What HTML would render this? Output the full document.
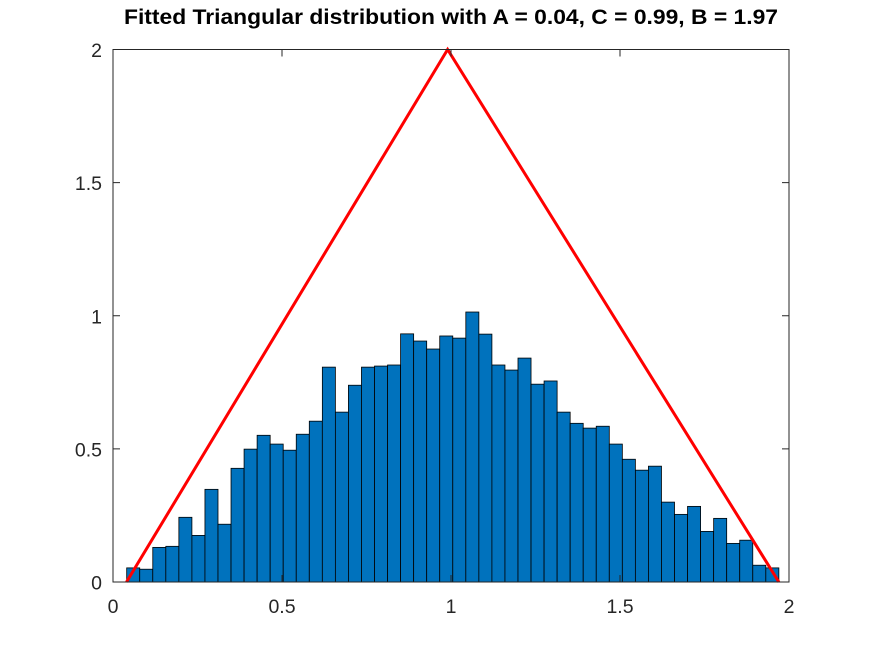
<!DOCTYPE html>
<html><head><meta charset="utf-8"><style>body{margin:0;background:#fff}svg{display:block}</style></head>
<body>
<svg id="chart" width="872" height="654" xmlns="http://www.w3.org/2000/svg" font-family="Liberation Sans, sans-serif">
<rect width="872" height="654" fill="#fff"/>
<g id="bars"></g>
<g id="line"></g>
<g id="axes"></g>
<text x="451" y="24" text-anchor="middle" font-size="21" font-weight="bold" textLength="654" lengthAdjust="spacingAndGlyphs">Fitted Triangular distribution with A = 0.04, C = 0.99, B = 1.97</text>
</svg>
<script>
const binStart = 0.0405;
const binEnd = 1.97;
const density = [0.053,0.048,0.130,0.134,0.243,0.175,0.348,0.217,0.427,0.499,0.551,0.518,0.495,0.555,0.604,0.807,0.638,0.739,0.807,0.811,0.815,0.932,0.905,0.875,0.924,0.916,1.014,0.931,0.815,0.796,0.841,0.743,0.755,0.638,0.596,0.578,0.585,0.518,0.461,0.420,0.435,0.300,0.254,0.284,0.190,0.239,0.145,0.157,0.063,0.053];
const pdfX = [0.04, 0.99, 1.97];
const pdfY = [0, 2, 0];
const xTicks = [0, 0.5, 1, 1.5, 2];
const xTickLabels = ["0","0.5","1","1.5","2"];
const yTicks = [0, 0.5, 1, 1.5, 2];
const yTickLabels = ["0","0.5","1","1.5","2"];
const L=113,R=789,T=49.5,B=582;
const sx=v=>L+(v-0)/2*(R-L);
const sy=v=>B-(v-0)/2*(B-T);
const NS="http://www.w3.org/2000/svg";
function mk(t,a,p){const e=document.createElementNS(NS,t);for(const k in a)e.setAttribute(k,a[k]);p.appendChild(e);return e;}
const gb=document.getElementById('bars');
const w=(binEnd-binStart)/density.length;
density.forEach((d,i)=>{
  const x0=sx(binStart+i*w),x1=sx(binStart+(i+1)*w);
  const r=mk('rect',{x:x0,y:sy(d),width:x1-x0,height:sy(0)-sy(d),fill:'#0072bd',stroke:'#000','stroke-width':0.8},gb);
  
  
});
const gl=document.getElementById('line');
const pl=mk('polyline',{points:pdfX.map((x,i)=>sx(x)+','+sy(pdfY[i])).join(' '),fill:'none',stroke:'#ff0000','stroke-width':3},gl);


const ga=document.getElementById('axes');
mk('rect',{x:L,y:T,width:R-L,height:B-T,fill:'none',stroke:'#262626','stroke-width':1},ga);
xTicks.forEach((v,i)=>{
  const x=sx(v);
  mk('line',{x1:x,x2:x,y1:B,y2:B-7,stroke:'#262626'},ga);
  mk('line',{x1:x,x2:x,y1:T,y2:T+7,stroke:'#262626'},ga);
  const t=mk('text',{x:x,y:B+31,'text-anchor':'middle','font-size':19.5,fill:'#262626'},ga);
  t.textContent=xTickLabels[i];
  
  
});
yTicks.forEach((v,i)=>{
  const y=sy(v);
  mk('line',{x1:L,x2:L+7,y1:y,y2:y,stroke:'#262626'},ga);
  mk('line',{x1:R,x2:R-7,y1:y,y2:y,stroke:'#262626'},ga);
  const t=mk('text',{x:L-11,y:y+7.5,'text-anchor':'end','font-size':19.5,fill:'#262626'},ga);
  t.textContent=yTickLabels[i];
  
  
});
</script>
</body></html>
